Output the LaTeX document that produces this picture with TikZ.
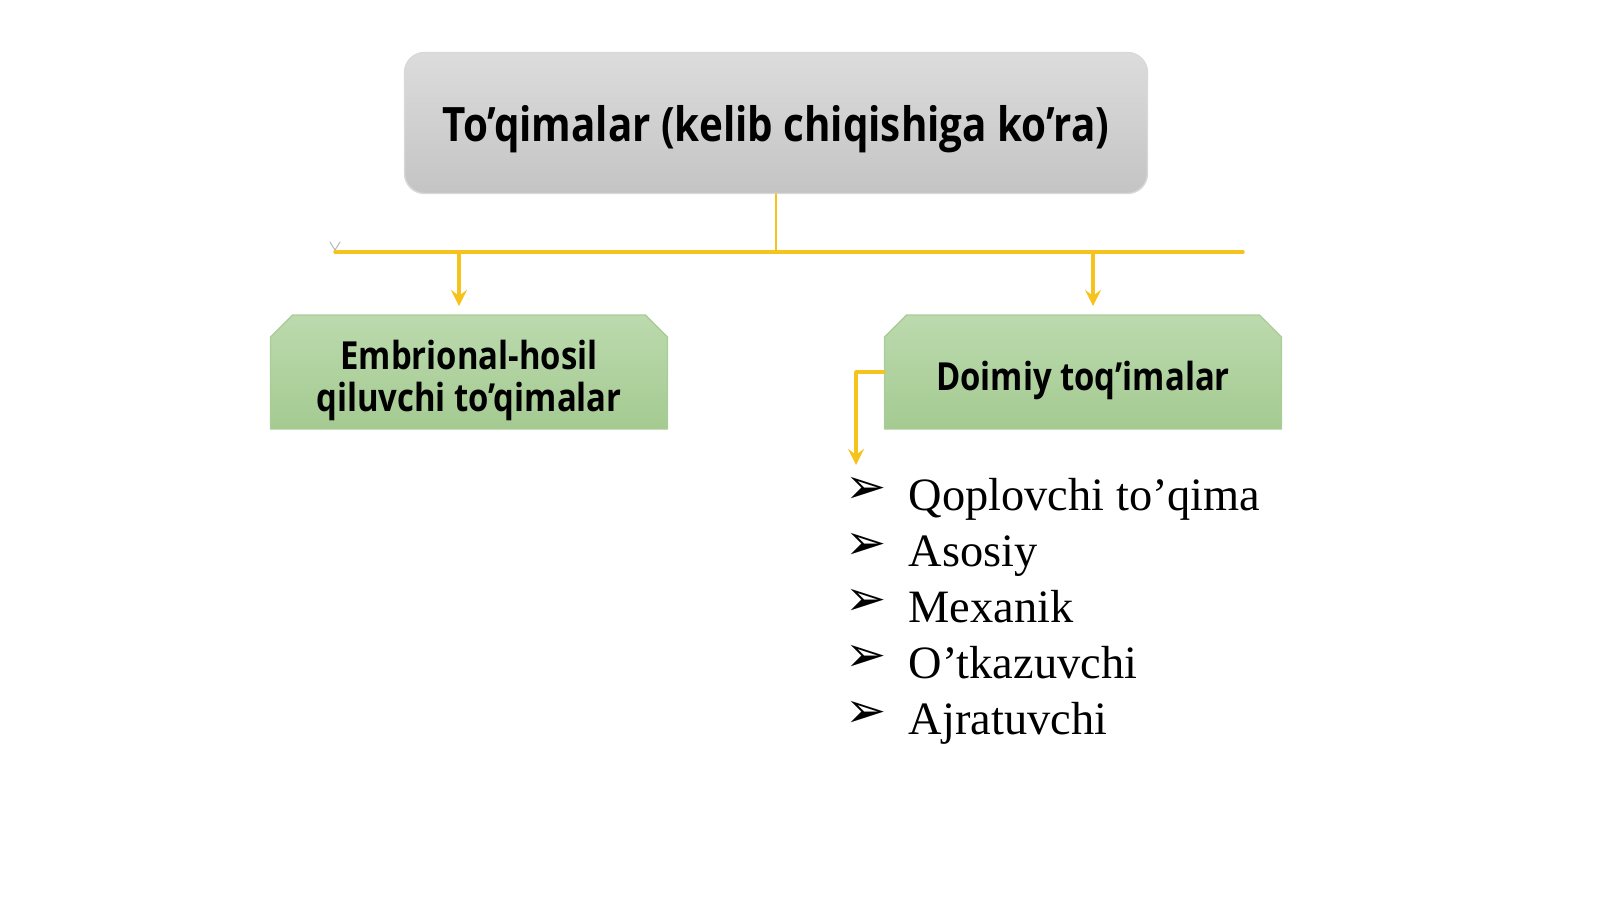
\documentclass[tikz,border=0pt]{standalone}
\usepackage{fontspec}
\setmainfont{Liberation Serif}
\newfontfamily\boxfont[FakeStretch=0.85]{Open Sans}
\newfontfamily\symfont{DejaVu Sans}
\usetikzlibrary{shapes.misc}
\definecolor{lineyellow}{RGB}{246,194,28}
\definecolor{greentop}{RGB}{188,218,174}
\definecolor{greenbot}{RGB}{164,202,145}
\definecolor{greenline}{RGB}{170,205,152}
\begin{document}
\begin{tikzpicture}[>=stealth,line cap=round,line join=round,x=.1mm,y=-.1mm,
	topbox/.style={draw=gray!30,rounded corners=2mm,minimum width=74.3mm,minimum height=14.1mm,
		top color={rgb,255:red,220;green,220;blue,220},bottom color={rgb,255:red,196;green,196;blue,196},
		text height=4.8mm,text depth=1.1mm,font=\boxfont\bfseries\fontsize{13.5}{16}\selectfont},
	greenbox/.style={chamfered rectangle,chamfered rectangle corners={north west,north east},
		chamfered rectangle sep=1.1mm,draw=greenline,minimum width=39.7mm,minimum height=11.4mm,
		inner ysep=0mm,top color=greentop,bottom color=greenbot,align=center,
		font=\boxfont\bfseries\fontsize{11}{11.8}\selectfont},
	link/.style={draw=lineyellow,line width=1pt},
	bullet/.style={inner sep=0pt,font=\symfont\fontsize{14}{14}\selectfont},
	item/.style={anchor=base west,inner sep=0pt,font=\fontsize{13.2}{16}\selectfont}]
	\useasboundingbox (0,0) rectangle (1600,899);
	\node[topbox] (root) at (776,123) {To’qimalar (kelib chiqishiga ko’ra)};
	\node[greenbox,text height=8.35mm,text depth=.5mm] (embr) at (469,372) {Embrional-hosil\\qiluvchi to’qimalar};
	\node[greenbox,text height=4.75mm,text depth=1mm] (doim) at (1083,372) {Doimiy toq’imalar};
	\coordinate (hl) at (335,252);
	\coordinate (hr) at (1243,252);
	\coordinate (dl) at (459,306);
	\coordinate (dr) at (1093,306);
	\coordinate (tip) at (856,465);
	\draw[link,line width=.6pt] (root.south) -- (root.south |- hl);
	\draw[link] (hl) -- (hr);
	\draw[link,->] (dl |- hl) -- (dl);
	\draw[link,->] (dr |- hl) -- (dr);
	\draw[link,->] (doim.west) -| (tip);
	\draw[gray!55,line width=.3pt] ([xshift=-.5mm,yshift=1mm]hl) -- ([yshift=.2mm]hl) -- ([xshift=.5mm,yshift=1mm]hl);
	\foreach \t [count=\i] in {Qoplovchi to’qima,Asosiy,Mexanik,O’tkazuvchi,Ajratuvchi}{
		\node[bullet] (b\i) at (866,{490+56*(\i-1)}) {➢};
		\node[item] (t\i) at (908,{510+56*(\i-1)}) {\t};
	}
\end{tikzpicture}
\end{document}
